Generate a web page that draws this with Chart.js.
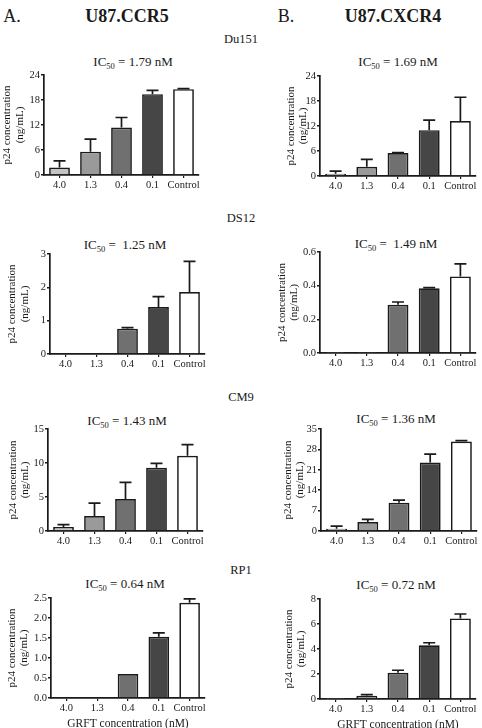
<!DOCTYPE html>
<html>
<head>
<meta charset="utf-8">
<script src="https://cdn.jsdelivr.net/npm/chart.js@4.4.1/dist/chart.umd.min.js"></script>
<style>
  html, body { margin: 0; padding: 0; background: #fff; }
  body { width: 482px; height: 728px; position: relative; overflow: hidden;
         font-family: "Liberation Serif", "DejaVu Serif", serif; color: #1a1a1a; }
  canvas { position: absolute; }
  .lbl { position: absolute; transform: translate(-50%, -50%); white-space: nowrap; line-height: 1; }
  .head { font-size: 18px; font-weight: bold; }
  .letter { font-size: 18px; }
  .strain { font-size: 12.5px; }
  .ic { font-size: 13px; }
  .ic sub { font-size: 8.5px; vertical-align: baseline; position: relative; top: 3px; }
</style>
</head>
<body>
<div class="lbl letter" style="left:12px; top:16px;">A.</div>
<div class="lbl head" style="left:127px; top:16px;">U87.CCR5</div>
<div class="lbl letter" style="left:286px; top:16px;">B.</div>
<div class="lbl head" style="left:393px; top:16px;">U87.CXCR4</div>
<div id="labels"></div>

<script>
const categories = ['4.0', '1.3', '0.4', '0.1', 'Control'];
const strains = ['Du151', 'DS12', 'CM9', 'RP1'];
const xTitle = 'GRFT concentration (nM)';

// U87.CCR5 (A)
const ic50Ccr5 = ['1.79', '1.25', '1.43', '0.64'];
const du151CcrMean = [1.8, 5.6, 11.4, 19.4, 20.6];
const du151CcrErr  = [1.6, 3.0, 2.4, 0.9, 0.15];
const du151CcrTicks = ['0', '6', '12', '18', '24'];
const ds12CcrMean = [0, 0, 0.76, 1.41, 1.86];
const ds12CcrErr  = [0, 0, 0.03, 0.31, 0.92];
const ds12CcrTicks = ['0', '1', '2', '3'];
const cm9CcrMean = [0.6, 2.2, 4.7, 9.3, 11.05];
const cm9CcrErr  = [0.35, 1.9, 2.45, 0.65, 1.65];
const cm9CcrTicks = ['0', '5', '10', '15'];
const rp1CcrMean = [0, 0, 0.6, 1.53, 2.38];
const rp1CcrErr  = [0, 0, 0, 0.1, 0.1];
const rp1CcrTicks = ['0.0', '0.5', '1.0', '1.5', '2.0', '2.5'];

// U87.CXCR4 (B)
const ic50Cxcr4 = ['1.69', '1.49', '1.36', '0.72'];
const du151CxcMean = [0.55, 2.2, 5.5, 11.0, 13.2];
const du151CxcErr  = [0.6, 1.8, 0.1, 2.4, 5.7];
const du151CxcTicks = ['0', '6', '12', '18', '24'];
const ds12CxcMean = [0.002, 0.002, 0.287, 0.384, 0.455];
const ds12CxcErr  = [0, 0, 0.016, 0.004, 0.074];
const ds12CxcTicks = ['0.0', '0.2', '0.4', '0.6'];
const cm9CxcMean = [0.8, 3.1, 9.7, 23.5, 30.7];
const cm9CxcErr  = [0.9, 0.9, 0.9, 2.9, 0.3];
const cm9CxcTicks = ['0', '7', '14', '21', '28', '35'];
const rp1CxcMean = [0.02, 0.27, 2.1, 4.3, 6.45];
const rp1CxcErr  = [0, 0.08, 0.2, 0.2, 0.35];
const rp1CxcTicks = ['0', '2', '4', '6', '8'];

const barFill = ['#c4c4c4', '#9a9a9a', '#707070', '#464646', '#ffffff'];
const ink = '#1a1a1a';

Chart.defaults.font.family = '"Liberation Serif", "DejaVu Serif", serif';
Chart.defaults.color = ink;

// plot box in page px: x0 = canvas left, [L,T,R,B] = chart area, tp = y title offset
const panels = [
  { mean: du151CcrMean, err: du151CcrErr, ticks: du151CcrTicks, ic: ic50Ccr5[0], x0: 0,   L: 44,  T: 75,  R: 199, B: 175, tp: 0.7,  icx: 133, icy: 61 },
  { mean: du151CxcMean, err: du151CxcErr, ticks: du151CxcTicks, ic: ic50Cxcr4[0], x0: 270, L: 320, T: 76,  R: 476, B: 176, tp: 14.5, icx: 398, icy: 61 },
  { mean: ds12CcrMean,  err: ds12CcrErr,  ticks: ds12CcrTicks,  ic: ic50Ccr5[1], x0: 0,   L: 50,  T: 254, R: 205, B: 354, tp: 6,    icx: 125, icy: 244, wide: true },
  { mean: ds12CxcMean,  err: ds12CxcErr,  ticks: ds12CxcTicks,  ic: ic50Cxcr4[1], x0: 270, L: 320, T: 252, R: 476, B: 353, tp: 5.5,  icx: 396, icy: 243, wide: true },
  { mean: cm9CcrMean,   err: cm9CcrErr,   ticks: cm9CcrTicks,   ic: ic50Ccr5[2], x0: 0,   L: 48,  T: 429, R: 203, B: 531, tp: 6.5,  icx: 127, icy: 420 },
  { mean: cm9CxcMean,   err: cm9CxcErr,   ticks: cm9CxcTicks,   ic: ic50Cxcr4[2], x0: 270, L: 321, T: 429, R: 477, B: 531, tp: 11.5, icx: 396, icy: 418 },
  { mean: rp1CcrMean,   err: rp1CcrErr,   ticks: rp1CcrTicks,   ic: ic50Ccr5[3], x0: 0,   L: 51,  T: 598, R: 205, B: 698, tp: 5.5,  icx: 125, icy: 583, bottom: true },
  { mean: rp1CxcMean,   err: rp1CxcErr,   ticks: rp1CxcTicks,   ic: ic50Cxcr4[3], x0: 270, L: 320, T: 599, R: 476, B: 699, tp: 12.5, icx: 396, icy: 584, bottom: true }
];
const strainY = [39, 218, 397, 570];

const errorBars = {
  id: 'errorBars',
  afterDatasetsDraw(chart, args, opts) {
    const meta = chart.getDatasetMeta(0);
    const y = chart.scales.y;
    const data = chart.data.datasets[0].data;
    const ctx = chart.ctx;
    ctx.save();
    ctx.strokeStyle = ink;
    ctx.lineWidth = 1.7;
    meta.data.forEach((bar, i) => {
      const e = opts.values[i];
      if (!e) return;
      const top = y.getPixelForValue(data[i] + e);
      ctx.beginPath();
      ctx.moveTo(bar.x, bar.y);
      ctx.lineTo(bar.x, top);
      ctx.moveTo(bar.x - 6, top);
      ctx.lineTo(bar.x + 6, top);
      ctx.stroke();
    });
    ctx.restore();
  }
};

const labelBox = document.getElementById('labels');
strains.forEach((s, i) => {
  const d = document.createElement('div');
  d.className = 'lbl strain';
  d.style.left = '241px';
  d.style.top = strainY[i] + 'px';
  d.textContent = s;
  labelBox.appendChild(d);
});

panels.forEach(p => {
  const ic = document.createElement('div');
  ic.className = 'lbl ic';
  ic.style.left = p.icx + 'px';
  ic.style.top = p.icy + 'px';
  ic.innerHTML = 'IC<sub>50</sub> =' + (p.wide ? '&nbsp; ' : ' ') + p.ic + ' nM';
  labelBox.appendChild(ic);

  const xH = p.bottom ? 33 : 20;
  const top = p.T - 10;
  const canvas = document.createElement('canvas');
  canvas.width = p.R + 8 - p.x0;
  canvas.height = p.B - top + xH;
  canvas.style.left = p.x0 + 'px';
  canvas.style.top = top + 'px';
  document.body.appendChild(canvas);

  const tickVals = p.ticks.map(Number);

  new Chart(canvas.getContext('2d'), {
    type: 'bar',
    data: {
      labels: categories,
      datasets: [{
        data: p.mean,
        backgroundColor: barFill,
        borderColor: ink,
        borderWidth: 1.7,
        borderSkipped: 'start',
        barPercentage: 0.67,
        categoryPercentage: 1.0
      }]
    },
    options: {
      responsive: false,
      animation: false,
      layout: { padding: { top: 10, right: 8, left: 0, bottom: 0 } },
      plugins: {
        legend: { display: false },
        tooltip: { enabled: false },
        errorBars: { values: p.err }
      },
      scales: {
        x: {
          grid: { display: true, offset: false, drawOnChartArea: false, drawTicks: true, tickLength: 3, color: ink, lineWidth: 1.2 },
          border: { display: true, color: ink, width: 1.7 },
          ticks: { font: { size: 10.5 }, padding: 1, maxRotation: 0, autoSkip: false, color: ink },
          title: {
            display: !!p.bottom,
            text: xTitle,
            font: { size: 11.5 },
            padding: 0,
            color: ink
          },
          afterFit: scale => { scale.height = xH; }
        },
        y: {
          min: 0,
          max: tickVals[tickVals.length - 1],
          grid: { drawOnChartArea: false, drawTicks: true, tickLength: 3, color: ink, lineWidth: 1.5 },
          border: { display: true, color: ink, width: 1.7 },
          ticks: {
            font: { size: 10.5 },
            padding: 1,
            color: ink,
            callback: (v, i) => p.ticks[i]
          },
          afterBuildTicks: scale => { scale.ticks = tickVals.map(v => ({ value: v })); },
          title: {
            display: true,
            text: ['p24 concentration', '(ng/mL)'],
            font: { size: 11, lineHeight: 1.15 },
            padding: { top: p.tp, bottom: 0 },
            color: ink
          },
          afterFit: scale => { scale.width = p.L - p.x0; }
        }
      }
    },
    plugins: [errorBars]
  });
});
</script>
</body>
</html>
